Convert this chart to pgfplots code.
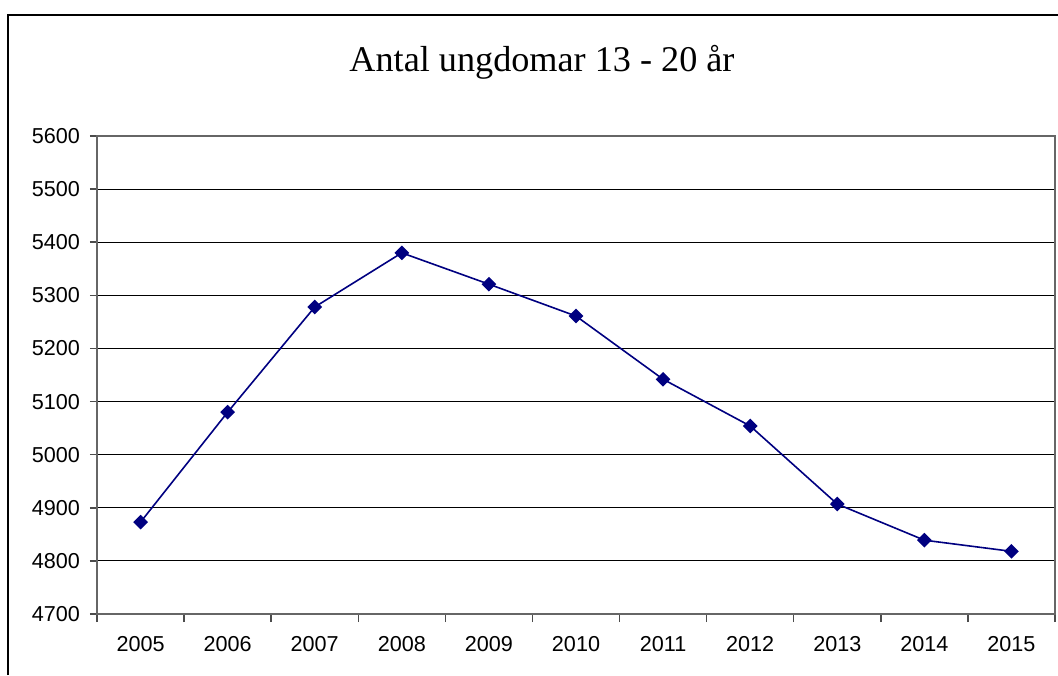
\documentclass[border=0pt]{standalone}
\usepackage{pgfplots}
\pgfplotsset{compat=1.18}
\usepackage{fontspec}
\setmainfont{Liberation Serif}
\newfontfamily\arial{Liberation Sans}
\definecolor{navyline}{RGB}{0,0,128}
\begin{document}
\begin{tikzpicture}
% picture frame: 1 px = 0.5 pt, origin at plot-area bottom left
\path[use as bounding box] (-48.5pt,-30.5pt) rectangle (480.5pt,307pt);
\draw[line width=1pt] (-44.5pt,-30.5pt) -- (-44.5pt,299.5pt) -- (480.5pt,299.5pt);
\begin{axis}[
  at={(0pt,0pt)}, anchor=south west,
  scale only axis,
  width=479pt, height=239pt,
  xmin=-0.5, xmax=10.5,
  ymin=4700, ymax=5600,
  xtick={0,...,10},
  xticklabels={2005,2006,2007,2008,2009,2010,2011,2012,2013,2014,2015},
  minor xtick={-0.5,0.5,...,10.5},
  ytick={4700,4800,...,5600},
  ymajorgrids,
  major grid style={black, line width=0.5pt},
  axis line style={black!60, line width=0.75pt},
  tick style={black!70, line width=0.75pt},
  major x tick style={draw=none},
  minor tick length=4pt,
  major tick length=3.5pt,
  tick align=outside,
  xtick pos=bottom, ytick pos=left,
  tick label style={font=\arial\fontsize{10.8}{12}\selectfont},
  /pgf/number format/assume math mode=true,
  /pgf/number format/1000 sep={},
  yticklabel style={xshift=-1.5pt},
  xticklabel style={yshift=-4pt},
  clip=false,
]
\addplot[navyline, line width=0.8pt, mark=square*, mark size=2.2pt,
  mark options={rotate=45, fill=navyline}] coordinates {
  (0,4873) (1,5080) (2,5278) (3,5380) (4,5321) (5,5261)
  (6,5142) (7,5054) (8,4907) (9,4839) (10,4818)};
\node[font=\fontsize{18.1}{20}\selectfont, anchor=base] at (rel axis cs:0.4645,1.135) {Antal ungdomar 13 - 20 år};
\end{axis}
\end{tikzpicture}
\end{document}
